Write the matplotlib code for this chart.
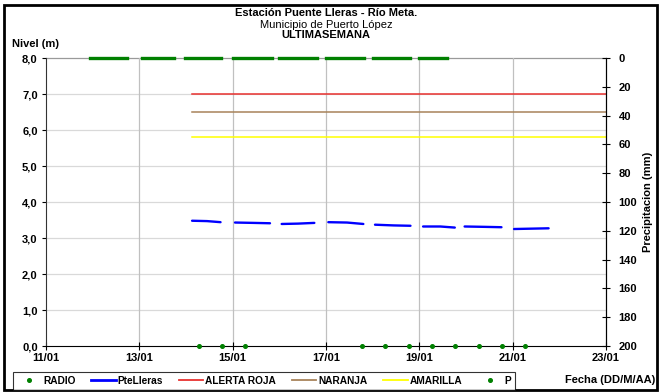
import numpy as np
import matplotlib
matplotlib.use("Agg")
import matplotlib.pyplot as plt
from matplotlib.lines import Line2D
from matplotlib.patches import Rectangle

plt.rcParams['font.family'] = ['Liberation Sans', 'DejaVu Sans']

# ---------------- data (x = days since 11/01) ----------------
date_ticks = [0, 2, 4, 6, 8, 10, 12]
date_labels = ['11/01', '13/01', '15/01', '17/01', '19/01', '21/01', '23/01']

nan = np.nan
pte_days = [3.13, 3.45, 3.74, nan,
            4.05, 4.45, 4.80, nan,
            5.05, 5.40, 5.75, nan,
            6.05, 6.45, 6.80, nan,
            7.05, 7.45, 7.81, nan,
            8.08, 8.45, 8.76, nan,
            8.97, 9.40, 9.76, nan,
            10.03, 10.40, 10.77]
pte_level = [3.48, 3.47, 3.44, nan,
             3.43, 3.42, 3.41, nan,
             3.39, 3.40, 3.42, nan,
             3.44, 3.43, 3.39, nan,
             3.37, 3.35, 3.34, nan,
             3.32, 3.32, 3.29, nan,
             3.32, 3.31, 3.30, nan,
             3.25, 3.26, 3.27]

radio_days = [3.27, 3.77, 4.27, 6.77, 7.27, 7.77, 8.27, 8.77, 9.27, 9.77, 10.27]
radio_level = [0, 0, 0, 0, 0, 0, 0, 0, 0, 0, 0]

p_start = [0.95, 2.06, 2.97, 4.00, 5.00, 6.00, 7.00, 8.00]
p_end = [1.73, 2.75, 3.76, 4.84, 5.80, 6.82, 7.80, 8.60]
p_value = [0, 0, 0, 0, 0, 0, 0, 0]

alert_start = 3.13
alert_end = 12.0
alerta_roja = 7.0
naranja = 6.5
amarilla = 5.8

level_ticks = [0, 1, 2, 3, 4, 5, 6, 7, 8]
level_labels = ['0,0', '1,0', '2,0', '3,0', '4,0', '5,0', '6,0', '7,0', '8,0']
precip_ticks = [0, 20, 40, 60, 80, 100, 120, 140, 160, 180, 200]

# ---------------- figure ----------------
fig = plt.figure(figsize=(6.61, 3.92), dpi=100)
ax = fig.add_axes([0.0696, 0.1173, 0.9168 - 0.0696, 0.852 - 0.1173])
ax2 = ax.twinx()

ax.set_xlim(0, 12)
ax.set_ylim(0, 8)
ax2.set_ylim(200, 0)

# grid
for y in level_ticks[1:-1]:
    ax.axhline(y, color='#d9d9d9', lw=0.9, zorder=0)
ax.axhline(8, color='#9a9a9a', lw=0.9, zorder=0, clip_on=False)
for x in date_ticks[1:-1]:
    ax.axvline(x, color='#c0c0c0', lw=0.9, zorder=0)

# alert lines
ax.plot([alert_start, alert_end], [alerta_roja] * 2, color='#E8312F', lw=1.1, zorder=2)
ax.plot([alert_start, alert_end], [naranja] * 2, color='#A8835A', lw=1.1, zorder=2)
ax.plot([alert_start, alert_end], [amarilla] * 2, color='#FFFF00', lw=1.1, zorder=2)

# level series
ax.plot(pte_days, pte_level, color='#0000FF', lw=1.7, zorder=3, solid_capstyle='round')
ax.plot(radio_days, radio_level, ls='none', marker='o', ms=2.6, color='#008000',
        zorder=4, clip_on=False)

# precipitation (right axis, inverted)
for s, e, v in zip(p_start, p_end, p_value):
    ax2.plot([s, e], [v, v], color='#008000', lw=2.4, clip_on=False, zorder=4)

# spines
for a in (ax, ax2):
    a.spines['top'].set_visible(False)
ax.spines['left'].set_color('#333333')
ax.spines['bottom'].set_color('black')
ax2.spines['right'].set_color('black')
ax2.spines['left'].set_visible(False)
ax2.spines['bottom'].set_visible(False)

ax.set_xticks(date_ticks)
ax.set_xticklabels(date_labels, fontsize=8, fontweight='bold')
ax.set_yticks(level_ticks)
ax.set_yticklabels(level_labels, fontsize=8, fontweight='bold')
ax.tick_params(axis='x', direction='inout', length=6, width=0.8, pad=2)
ax.tick_params(axis='y', direction='out', length=3, width=0.8, pad=3)
ax2.set_yticks(precip_ticks)
ax2.set_yticklabels([str(t) for t in precip_ticks], fontsize=8, fontweight='bold')
ax2.tick_params(axis='y', direction='inout', length=6, width=0.8, pad=6)
ax2.set_ylabel('Precipitacion (mm)', fontsize=8, fontweight='bold', labelpad=4)

# titles
cx = (0.0696 + 0.9168) / 2
fig.text(cx, 1 - 13 / 392, 'Estación Puente Lleras - Río Meta.', ha='center', va='center',
         fontsize=8, fontweight='bold')
fig.text(cx, 1 - 24.5 / 392, 'Municipio de Puerto López', ha='center', va='center', fontsize=8)
fig.text(cx, 1 - 35.5 / 392, 'ULTIMASEMANA', ha='center', va='center',
         fontsize=8, fontweight='bold')
fig.text(12 / 661, 1 - 44 / 392, 'Nivel (m)', ha='left', va='center', fontsize=8,
         fontweight='bold')
fig.text(655 / 661, 1 - 380 / 392, 'Fecha (DD/M/AA)', ha='right', va='center', fontsize=8,
         fontweight='bold')

# legend
handles = [
    Line2D([], [], ls='none', marker='o', ms=2.6, color='#008000'),
    Line2D([], [], color='#0000FF', lw=2.0),
    Line2D([], [], color='#E8312F', lw=1.3),
    Line2D([], [], color='#A8835A', lw=1.3),
    Line2D([], [], color='#FFFF00', lw=1.3),
    Line2D([], [], ls='none', marker='o', ms=2.6, color='#008000'),
]
labels = ['RADIO', 'PteLleras', 'ALERTA ROJA', 'NARANJA', 'AMARILLA', 'P']
leg = fig.legend(handles, labels, loc='center', ncol=6,
                 bbox_to_anchor=(264 / 661, 1 - 381 / 392),
                 prop={'size': 7.3, 'weight': 'bold'}, frameon=True, fancybox=False,
                 edgecolor='black', handlelength=2.4, handletextpad=0.2,
                 columnspacing=1.55, borderpad=0.35)
leg.get_frame().set_linewidth(0.8)

# outer frame
fig.patches.append(Rectangle((4 / 661, 2 / 392), 653 / 661, 385 / 392,
                             transform=fig.transFigure, fill=False,
                             edgecolor='black', lw=2.0))

fig.savefig('out.png', dpi=100)
